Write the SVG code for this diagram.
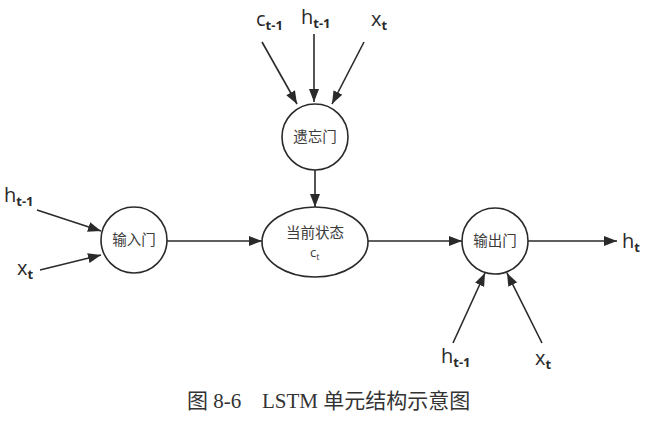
<svg xmlns="http://www.w3.org/2000/svg" width="647" height="423" viewBox="0 0 647 423">
<style>
.ln{stroke:#2a2a2a;stroke-width:1.6;fill:none}
.nd{stroke:#2a2a2a;stroke-width:1.6;fill:#fff}
.nt{font-family:"Noto Sans CJK SC",sans-serif;font-size:14.5px;fill:#3a3a3a;text-anchor:middle}
.lb{font-family:"Open Sans","Liberation Sans",sans-serif;font-size:20px;fill:#2a2a2a}
.sb{font-size:13px;font-weight:bold}
.cap{font-family:"Liberation Serif","Noto Sans CJK SC",serif;font-size:21px;fill:#333}
</style>
<defs>
<marker id="ah" viewBox="0 0 13 10" refX="13" refY="5" markerWidth="13" markerHeight="10" markerUnits="userSpaceOnUse" orient="auto">
<path d="M0,0 L13,5 L0,10 Z" fill="#2a2a2a"/>
</marker>
</defs>
<rect width="647" height="423" fill="#fff"/>
<g id="connectors">
<line class="ln" x1="262" y1="42" x2="297" y2="104" marker-end="url(#ah)"/>
<line class="ln" x1="314" y1="34" x2="314" y2="102" marker-end="url(#ah)"/>
<line class="ln" x1="364" y1="42" x2="332" y2="104" marker-end="url(#ah)"/>
<line class="ln" x1="315" y1="170" x2="315" y2="207" marker-end="url(#ah)"/>
<line class="ln" x1="37" y1="210" x2="101" y2="231" marker-end="url(#ah)"/>
<line class="ln" x1="40" y1="270" x2="101" y2="255" marker-end="url(#ah)"/>
<line class="ln" x1="167" y1="241" x2="262" y2="241" marker-end="url(#ah)"/>
<line class="ln" x1="368" y1="241" x2="462" y2="241" marker-end="url(#ah)"/>
<line class="ln" x1="528" y1="241" x2="617" y2="241" marker-end="url(#ah)"/>
<line class="ln" x1="453" y1="343" x2="485" y2="273" marker-end="url(#ah)"/>
<line class="ln" x1="542" y1="343" x2="507" y2="273" marker-end="url(#ah)"/>
</g>
<g id="forget-gate">
<circle class="nd" cx="315" cy="137" r="33"/>
<text class="nt" x="315" y="142">遗忘门</text>
</g>
<g id="input-gate">
<circle class="nd" cx="134" cy="240" r="33"/>
<text class="nt" x="134" y="245">输入门</text>
</g>
<g id="cell-state">
<ellipse class="nd" cx="315" cy="242" rx="53" ry="35"/>
<text class="nt" x="315" y="238">当前状态</text>
<text x="310" y="257" style="font-family:'Open Sans',sans-serif;font-size:13px;fill:#3a3a3a">c<tspan dy="3" font-size="9">t</tspan></text>
</g>
<g id="output-gate">
<circle class="nd" cx="495" cy="241" r="33"/>
<text class="nt" x="495" y="246">输出门</text>
</g>
<g id="labels">
<text class="lb" x="256" y="26">c<tspan class="sb" dy="4">t-1</tspan></text>
<text class="lb" x="301" y="24">h<tspan class="sb" dy="4">t-1</tspan></text>
<text class="lb" x="371" y="26">x<tspan class="sb" dy="4">t</tspan></text>
<text class="lb" x="4" y="202">h<tspan class="sb" dy="4">t-1</tspan></text>
<text class="lb" x="17" y="275">x<tspan class="sb" dy="4">t</tspan></text>
<text class="lb" x="622" y="248">h<tspan class="sb" dy="4">t</tspan></text>
<text class="lb" x="441" y="363">h<tspan class="sb" dy="4">t-1</tspan></text>
<text class="lb" x="535" y="365">x<tspan class="sb" dy="4">t</tspan></text>
</g>
<g id="caption">
<text class="cap" x="187" y="408">图 8-6</text>
<text class="cap" x="262" y="408">LSTM 单元结构示意图</text>
</g>
</svg>
